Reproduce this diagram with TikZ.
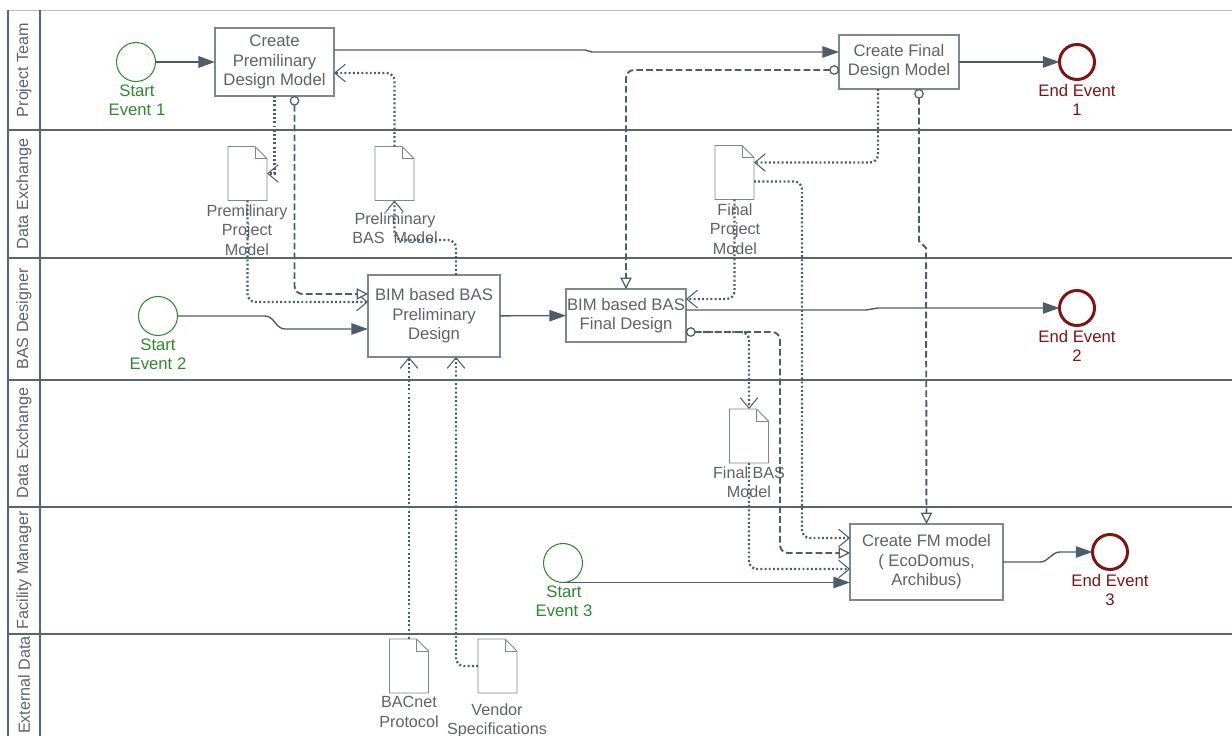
\documentclass[tikz,border=0pt]{standalone}
\usepackage{fontspec}
\setmainfont{Liberation Sans}
\usetikzlibrary{arrows.meta, positioning, calc}

\definecolor{laneline}{HTML}{58646E}
\definecolor{flowcol}{HTML}{4E5D6A}
\definecolor{txtgray}{HTML}{5C636A}
\definecolor{boxline}{HTML}{7E8891}
\definecolor{startgreen}{HTML}{2C8A2C}
\definecolor{endred}{HTML}{801414}

\begin{document}
\begin{tikzpicture}[x=0.02cm, y=-0.02cm,
  lane/.style={draw=laneline, line width=0.6pt},
  lanelabel/.style={rotate=90, font=\fontsize{9.2}{11}\selectfont, text=txtgray},
  task/.style={draw=boxline, fill=white, line width=0.6pt, inner sep=0pt, outer sep=0pt, font=\fontsize{9.5}{11}\selectfont, text=txtgray, align=center},
  startev/.style={circle, draw=startgreen, line width=0.6pt, minimum size=0.78cm, inner sep=0pt, outer sep=0pt},
  endev/.style={circle, draw=endred, line width=1.7pt, minimum size=0.7cm, inner sep=0pt, outer sep=0pt},
  startlbl/.style={font=\fontsize{9.5}{11}\selectfont, text=startgreen, align=center},
  endlbl/.style={font=\fontsize{9.5}{11}\selectfont, text=endred, align=center},
  doc/.style={minimum width=0.78cm, minimum height=1.08cm, inner sep=0pt, outer sep=0pt},
  doclbl/.style={font=\fontsize{9.2}{11}\selectfont, text=txtgray, align=center},
  docline/.style={draw=boxline, line width=0.5pt},
  seq/.style={draw=flowcol, line width=0.8pt, -{Triangle[length=9.5pt, width=6.5pt]}},
  assoc/.style={draw=flowcol, line width=1.3pt, dash pattern=on 1.1pt off 1.3pt, rounded corners=0.16cm, -{Straight Barb[length=6pt, width=10pt, line width=0.6pt]}},
  msg/.style={draw=flowcol, line width=1.1pt, dash pattern=on 3.8pt off 1.8pt, rounded corners=0.16cm, {Circle[open, length=5.5pt, fill=white, line width=0.7pt]}-{Triangle[open, length=6.5pt, width=6.5pt, fill=white, line width=0.7pt]}}
]
  \useasboundingbox (0,0) rectangle (1232,736);

  % swimlanes
  \draw[draw=laneline!40, line width=0.4pt] (8,10) -- (1232,10);
  \draw[lane] (8,10) -- (8,736);
  \draw[lane] (40,10) -- (40,736);
  \foreach \y in {130,258,380,507,634}
    \draw[lane] (8,\y) -- (1232,\y);
  \foreach \y/\t [count=\i] in {70/Project Team, 194/Data Exchange, 319/BAS Designer, 443/Data Exchange, 570/Facility Manager, 685/External Data}
    \node[lanelabel] (lane\i) at (24,\y) {\t};

  % events
  \node[startev] (s1) at (136,62) {};
  \node[startlbl] (s1L) at (137,100) {Start\\Event 1};
  \node[startev] (s2) at (158,316) {};
  \node[startlbl] (s2L) at (158,354) {Start\\Event 2};
  \node[startev] (s3) at (563,563) {};
  \node[startlbl] (s3L) at (564,601) {Start\\Event 3};
  \node[endev] (e1) at (1077,62) {};
  \node[endlbl] (e1L) at (1077,100) {End Event\\1};
  \node[endev] (e2) at (1077,308) {};
  \node[endlbl] (e2L) at (1077,346) {End Event\\2};
  \node[endev] (e3) at (1110,552) {};
  \node[endlbl] (e3L) at (1110,590) {End Event\\3};

  % tasks
  \node[task, minimum width=2.38cm, minimum height=1.36cm] (cp) at (274.5,62) {Create\\Premilinary\\Design Model};
  \node[task, minimum width=2.4cm, minimum height=1.08cm] (cf) at (899,62) {Create Final\\Design Model};
  \node[task, minimum width=2.64cm, minimum height=1.64cm] (bp) at (434,316) {BIM based BAS\\Preliminary\\Design};
  \node[task, minimum width=2.4cm, minimum height=1.06cm] (bf) at (626,315.5) {BIM based BAS\\Final Design};
  \node[task, minimum width=3.06cm, minimum height=1.52cm] (fm) at (926.5,562) {Create FM model\\( EcoDomus,\\Archibus)};

  % data objects
  \node[doc] (ppm) at (247.5,173.5) {};
  \node[doc] (pbm) at (394.5,173.5) {};
  \node[doc] (fpm) at (734.5,172.5) {};
  \node[doc] (fbm) at (749,436) {};
  \node[doc] (bac) at (409,666) {};
  \node[doc] (ven) at (497.5,666) {};
  \foreach \d in {ppm,pbm,fpm,fbm,bac,ven} {
    \draw[docline] (\d.south west) -- (\d.north west) -- ([xshift=-0.24cm]\d.north east)
      -- ([yshift=-0.24cm]\d.north east) -- (\d.south east) -- cycle;
    \draw[docline] ([xshift=-0.24cm]\d.north east) -- ([xshift=-0.24cm, yshift=-0.24cm]\d.north east)
      -- ([yshift=-0.24cm]\d.north east);
  }
  \node[doclbl] (ppmL) at (247,230) {Premilinary\\Project\\Model};
  \node[doclbl] (pbmL) at (395,228) {Preliminary\\BAS\ \ Model};
  \node[doclbl] (fpmL) at (735,229) {Final\\Project\\Model};
  \node[doclbl] (fbmL) at (749,482) {Final BAS\\Model};
  \node[doclbl] (bacL) at (409,712) {BACnet\\Protocol};
  \node[doclbl] (venL) at (497,721) {Vendor\\Specifications};

  % sequence flows
  \draw[seq, line width=1.3pt] (s1) -- (cp);
  \draw[seq] ($(cp.east)+(0,-12)$) -- (585,50) -- (592,52) -- (cf.west |- 0,52);
  \draw[seq] (cf) -- (e1);
  \draw[seq] (s2) -- (265,316) to[out=0, in=180] (285,329) -- (bp.west |- 0,329);
  \draw[seq] (bp) -- (bf);
  \draw[seq] (bf.east |- 0,310) -- (866,310) -- (878,308) -- (e2);
  \draw[seq] (s3.south) -- (s3.south -| fm.west);
  \draw[seq] (fm.east) -- (1040,562) to[out=0, in=180] (1060,552) -- (e3.west);

  % associations
  \draw[assoc, rounded corners=0pt] (cp.south) |- (ppm.east);
  \draw[assoc] (ppm.south) |- ($(bp.west)+(0,-14)$);
  \draw[assoc] (pbm.north) |- ($(cp.east)+(0,11)$);
  \draw[assoc] ($(bp.north)+(22,0)$) |- (pbm.south |- 0,240) -- (pbm.south);
  \draw[assoc] ($(cf.south)+(-21,0)$) |- ($(fpm.east)+(0,-10)$);
  \draw[assoc] (fpm.south) |- ($(bf.east)+(0,-16.5)$);
  \draw[assoc] ($(fpm.east)+(0,9)$) -| ($(fm.west)+(-48,-24)$) -- ($(fm.west)+(0,-24)$);
  \draw[assoc] ($(bf.east)+(0,16.5)$) -| (fbm.north);
  \draw[assoc] (fbm.south) |- ($(fm.west)+(0,7)$);
  \draw[assoc] (bac.north) -- (bac.north |- bp.south);
  \draw[assoc] (ven.west) -| ($(bp.south)+(22,0)$);

  % message flows
  \draw[msg] ($(cp.south)+(20,0)$) |- ($(bp.west)+(0,-22)$);
  \draw[msg] ($(cf.west)+(0,8)$) -| (bf.north);
  \draw[msg, rounded corners=0pt] ($(cf.south)+(20,0)$) -- ++(0,152) -- ++(7,7) -- (fm.north);
  \draw[msg] ($(bf.east)+(0,16.5)$) -| ($(fm.west)+(-70,-9)$) -- ($(fm.west)+(0,-9)$);
\end{tikzpicture}
\end{document}
